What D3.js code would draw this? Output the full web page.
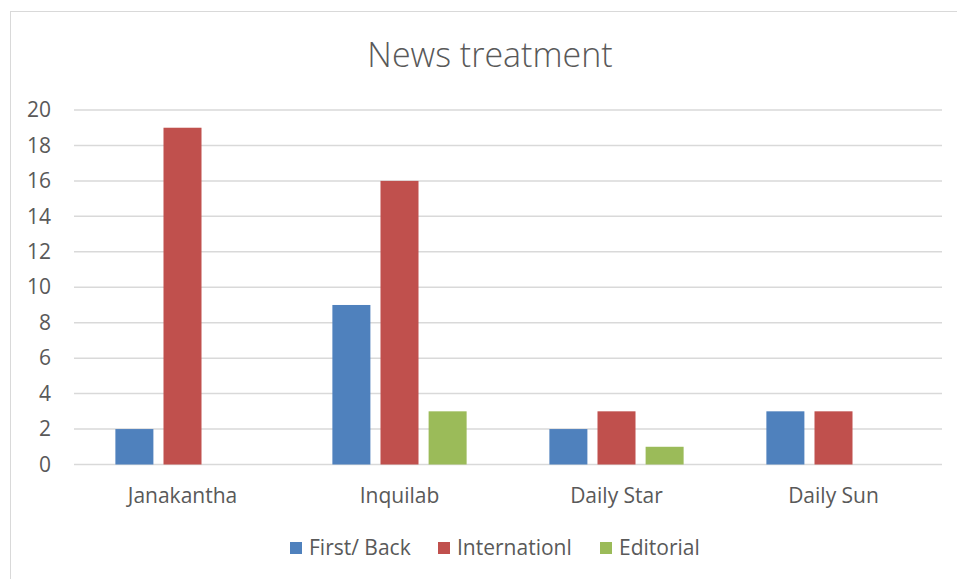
<!DOCTYPE html>
<html>
<head>
<meta charset="utf-8">
<script src="https://cdn.jsdelivr.net/npm/d3@7"></script>
<style>
  body { margin: 0; background: #fff; }
  text { font-family: "Open Sans", sans-serif; fill: #595959; }
</style>
</head>
<body>
<script>
// data
var categories = ['Janakantha', 'Inquilab', 'Daily Star', 'Daily Sun'];
var seriesNames = ['First/ Back', 'Internationl', 'Editorial'];
var firstBack = [2, 9, 2, 3];
var internationl = [19, 16, 3, 3];
var editorial = [0, 3, 1, 0];
var yTicks = [0, 2, 4, 6, 8, 10, 12, 14, 16, 18, 20];
var colors = ['#4f81bd', '#c0504d', '#9bbb59'];

var seriesValues = [firstBack, internationl, editorial];

var width = 957, height = 579,
    margin = {left: 74, top: 110, right: 15, bottom: 114.5},
    g_width = 942 - margin.left,
    g_height = 464.5 - margin.top;

var svg = d3.select('body').append('svg')
    .attr('width', width)
    .attr('height', height);

// chart area border
svg.append('rect')
    .attr('x', 10.5).attr('y', 11.5)
    .attr('width', 980).attr('height', 600)
    .attr('fill', 'none').attr('stroke', '#d9d9d9');

// title
svg.append('text')
    .attr('x', 490).attr('y', 67)
    .attr('text-anchor', 'middle')
    .style('font-size', '34px')
    .style('font-weight', 300)
    .text('News treatment');

var g = svg.append('g').attr('transform', 'translate(' + margin.left + ',' + margin.top + ')');

var scale_x = d3.scaleBand().domain(categories).range([0, g_width]);
var scale_x1 = d3.scaleBand().domain(seriesNames).range([0, scale_x.bandwidth()])
    .paddingInner(0.21).paddingOuter(0.86);
var scale_y = d3.scaleLinear().domain([0, 20]).range([g_height, 0]);

// gridlines
g.append('g').selectAll('line').data(yTicks).enter().append('line')
    .attr('x1', 0).attr('x2', g_width)
    .attr('y1', function(d){ return scale_y(d); })
    .attr('y2', function(d){ return scale_y(d); })
    .attr('stroke', '#d9d9d9').attr('stroke-width', 1.5);

// y axis labels
var y_axis = d3.axisLeft(scale_y).tickValues(yTicks).tickSize(0).tickPadding(23);
var ya = g.append('g').call(y_axis);
ya.select('.domain').remove();
ya.selectAll('text').style('font-size', '21px').attr('fill', '#595959');

// bars
var groups = g.selectAll('.grp').data(categories).enter().append('g')
    .attr('class', 'grp')
    .attr('transform', function(d){ return 'translate(' + scale_x(d) + ',0)'; });

groups.selectAll('rect').data(function(d, i){
        return seriesNames.map(function(s, j){ return {s: s, v: seriesValues[j][i], c: colors[j]}; });
    }).enter().append('rect')
    .attr('x', function(d){ return scale_x1(d.s); })
    .attr('width', scale_x1.bandwidth())
    .attr('y', function(d){ return scale_y(d.v); })
    .attr('height', function(d){ return g_height - scale_y(d.v); })
    .attr('fill', function(d){ return d.c; });

// x axis labels
var x_axis = d3.axisBottom(scale_x).tickSize(0).tickPadding(24);
var xa = g.append('g').attr('transform', 'translate(0,' + g_height + ')').call(x_axis);
xa.select('.domain').remove();
xa.selectAll('text').style('font-size', '21px').attr('fill', '#595959');

// legend
var legendX = [290, 438, 600];
var legend = svg.append('g').selectAll('g').data(seriesNames).enter().append('g')
    .attr('transform', function(d, i){ return 'translate(' + legendX[i] + ',542)'; });
legend.append('rect').attr('width', 12).attr('height', 12)
    .attr('fill', function(d, i){ return colors[i]; });
legend.append('text').attr('x', 19).attr('y', 6).attr('dy', '0.35em')
    .style('font-size', '21px')
    .text(function(d){ return d; });
</script>
</body>
</html>
